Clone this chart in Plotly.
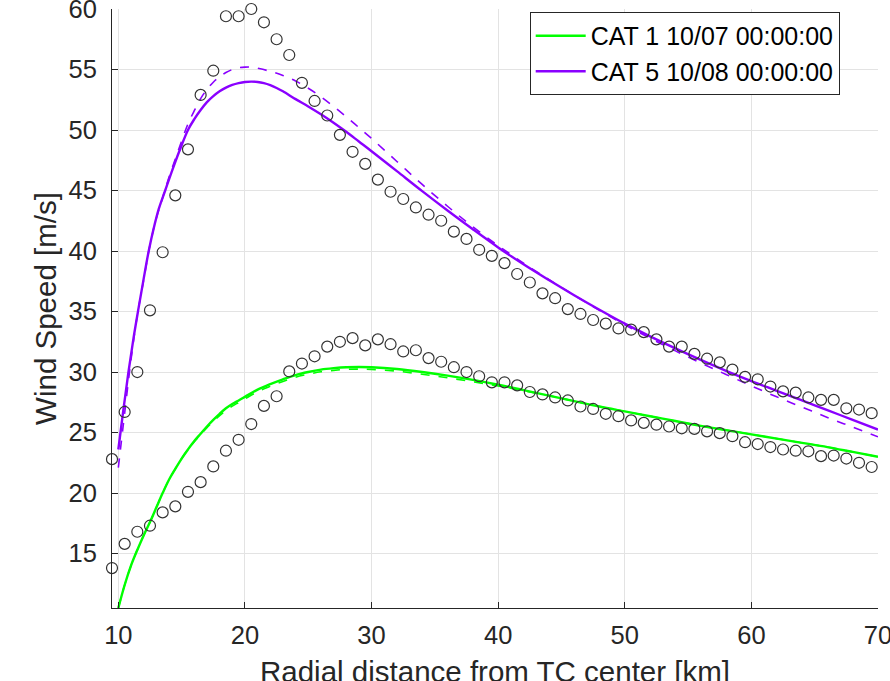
import plotly.graph_objects as go

# ---------------- data ----------------
obs_r = [9.5, 10.5, 11.5, 12.5, 13.5, 14.5, 15.5, 16.5, 17.5, 18.5, 19.5, 20.5, 21.5, 22.5,
         23.5, 24.5, 25.5, 26.5, 27.5, 28.5, 29.5, 30.5, 31.5, 32.5, 33.5, 34.5, 35.5, 36.5,
         37.5, 38.5, 39.5, 40.5, 41.5, 42.5, 43.5, 44.5, 45.5, 46.5, 47.5, 48.5, 49.5, 50.5,
         51.5, 52.5, 53.5, 54.5, 55.5, 56.5, 57.5, 58.5, 59.5, 60.5, 61.5, 62.5, 63.5, 64.5,
         65.5, 66.5, 67.5, 68.5, 69.5]

obs_cat5 = [22.8, 26.7, 30.0, 35.1, 39.9, 44.6, 48.4, 52.9, 54.9, 59.4, 59.4, 60.0, 58.9, 57.5,
            56.2, 53.9, 52.4, 51.2, 49.6, 48.2, 47.2, 45.9, 44.9, 44.3, 43.6, 43.0, 42.5, 41.6,
            41.0, 40.1, 39.6, 39.0, 38.1, 37.4, 36.5, 36.1, 35.2, 34.8, 34.3, 34.0, 33.6, 33.5,
            33.3, 32.7, 32.1, 32.1, 31.5, 31.1, 30.8, 30.2, 29.6, 29.4, 28.8, 28.4, 28.3, 27.9,
            27.7, 27.7, 27.0, 26.9, 26.6]

obs_cat1 = [13.8, 15.8, 16.8, 17.3, 18.4, 18.9, 20.1, 20.9, 22.2, 23.5, 24.4, 25.7, 27.2, 28.0,
            30.05, 30.7, 31.3, 32.1, 32.5, 32.8, 32.2, 32.7, 32.3, 31.7, 31.8, 31.15, 30.85, 30.4,
            30.0, 29.65, 29.15, 29.15, 28.9, 28.35, 28.15, 27.9, 27.65, 27.15, 26.95, 26.55, 26.35, 26.0,
            25.8, 25.65, 25.5, 25.35, 25.3, 25.1, 24.95, 24.7, 24.2, 24.05, 23.8, 23.6, 23.5, 23.45,
            23.05, 23.1, 22.85, 22.5, 22.15]

# model curves (solid = fitted, dashed = reference profile)
cat5_r = [10.0, 10.4, 10.8, 11.2, 11.6, 12.0, 12.4, 12.8, 13.2, 13.7, 14.2, 14.8, 15.5, 16.0,
          16.5, 17.0, 17.5, 18.0, 18.5, 19.0, 19.5, 20.0, 20.5, 21.0, 21.5, 22.0, 22.5, 23.0,
          24.0, 25.0, 26.0, 27.0, 28.0, 29.0, 30.0, 32.0, 34.0, 36.0, 38.0, 40.0, 42.0, 44.0,
          46.0, 48.0, 50.0, 52.0, 54.0, 56.0, 58.0, 60.0, 62.0, 64.0, 66.0, 68.0, 70.0]
cat5_fit = [23.6, 26.9, 30.0, 32.8, 35.3, 37.7, 40.0, 41.9, 43.5, 45.0, 46.5, 48.2, 50.0, 50.9,
            51.65, 52.3, 52.8, 53.2, 53.5, 53.72, 53.87, 53.97, 54.0, 53.97, 53.87, 53.7, 53.47, 53.2,
            52.55, 51.95, 51.3, 50.6, 49.85, 49.05, 48.25, 46.6, 44.95, 43.35, 41.8, 40.3, 38.9, 37.6,
            36.35, 35.15, 34.0, 32.95, 31.95, 31.0, 30.1, 29.25, 28.45, 27.65, 26.85, 26.05, 25.25]
cat5_ref_r = [10.0, 10.5, 11.0, 11.5, 12.0, 12.5, 13.0, 13.5, 14.0, 14.5, 15.0, 15.5, 16.0, 16.5,
              17.0, 17.5, 18.0, 18.5, 19.0, 19.5, 20.0, 20.5, 21.0, 22.0, 23.0, 24.0, 25.0, 26.0,
              27.0, 28.0, 29.0, 30.0, 32.0, 34.0, 36.0, 38.0, 40.0, 42.0, 44.0, 46.0, 48.0, 50.0,
              52.0, 54.0, 56.0, 58.0, 60.0, 62.0, 64.0, 66.0, 68.0, 70.0]
cat5_ref = [22.1, 26.6, 31.0, 34.7, 37.6, 40.5, 42.7, 44.4, 46.1, 47.6, 49.1, 50.5, 51.6, 52.6,
            53.35, 53.95, 54.4, 54.75, 55.0, 55.15, 55.2, 55.2, 55.1, 54.85, 54.5, 54.05, 53.45, 52.75,
            51.95, 51.1, 50.2, 49.3, 47.4, 45.5, 43.7, 42.0, 40.45, 39.0, 37.65, 36.35, 35.1, 33.9,
            32.8, 31.75, 30.75, 29.8, 28.85, 27.95, 27.1, 26.25, 25.45, 24.65]

cat1_r = [10.0, 10.5, 11.0, 11.5, 12.0, 12.5, 13.0, 13.5, 14.0, 14.5, 15.0, 15.5, 16.0, 16.5,
          17.0, 17.5, 18.0, 18.5, 19.0, 19.5, 20.0, 21.0, 22.0, 23.0, 24.0, 25.0, 26.0, 27.0,
          28.0, 29.0, 30.0, 32.0, 34.0, 36.0, 38.0, 40.0, 42.0, 44.0, 46.0, 48.0, 50.0, 52.0,
          54.0, 56.0, 58.0, 60.0, 62.0, 64.0, 66.0, 68.0, 70.0]
cat1_fit = [10.5, 12.4, 14.0, 15.3, 16.5, 17.6, 18.8, 20.0, 21.1, 22.0, 22.85, 23.6, 24.3, 24.9,
            25.5, 26.05, 26.55, 27.0, 27.35, 27.65, 27.95, 28.55, 29.0, 29.4, 29.75, 30.0, 30.2, 30.32,
            30.4, 30.42, 30.4, 30.25, 30.0, 29.7, 29.35, 28.95, 28.5, 28.05, 27.6, 27.15, 26.75, 26.35,
            25.95, 25.55, 25.2, 24.85, 24.5, 24.15, 23.8, 23.4, 23.0]
cat1_ref = [10.5, 12.4, 14.0, 15.3, 16.5, 17.6, 18.8, 20.0, 21.1, 22.0, 22.85, 23.6, 24.25, 24.82,
            25.4, 25.9, 26.4, 26.83, 27.18, 27.48, 27.78, 28.37, 28.82, 29.22, 29.57, 29.82, 30.02, 30.14,
            30.22, 30.24, 30.22, 30.07, 29.82, 29.52, 29.2, 28.85, 28.45, 28.05, 27.6, 27.15, 26.75, 26.35,
            25.95, 25.55, 25.2, 24.85, 24.5, 24.15, 23.8, 23.4, 23.0]

series_names = ["CAT 1 10/07 00:00:00", "CAT 5 10/08 00:00:00"]
series_colors = ["#00ff00", "#8a00ff"]

x_ticks = [10, 20, 30, 40, 50, 60, 70]
y_ticks = [15, 20, 25, 30, 35, 40, 45, 50, 55, 60]

x_title = "Radial distance from TC center [km]"
y_title = "Wind Speed [m/s]"

FONT = "Liberation Sans, Arial, Helvetica, sans-serif"
DARK = "#262626"

fig = go.Figure()

# dashed reference profiles
fig.add_trace(go.Scatter(x=cat1_r, y=cat1_ref, mode="lines", showlegend=False,
                         line=dict(color=series_colors[0], width=1.6, dash="dash", shape="spline")))
fig.add_trace(go.Scatter(x=cat5_ref_r, y=cat5_ref, mode="lines", showlegend=False,
                         line=dict(color=series_colors[1], width=1.6, dash="dash", shape="spline")))
# solid fitted profiles
fig.add_trace(go.Scatter(x=cat1_r, y=cat1_fit, mode="lines", name=series_names[0],
                         line=dict(color=series_colors[0], width=2.4, shape="spline")))
fig.add_trace(go.Scatter(x=cat5_r, y=cat5_fit, mode="lines", name=series_names[1],
                         line=dict(color=series_colors[1], width=2.4, shape="spline")))
# observations
for obs in (obs_cat1, obs_cat5):
    fig.add_trace(go.Scatter(x=obs_r, y=obs, mode="markers", showlegend=False, cliponaxis=False,
                             marker=dict(symbol="circle-open", size=11, color="#333333",
                                         line=dict(width=1.2, color="#333333"))))

axis_common = dict(showgrid=True, gridcolor="#e3e3e3", gridwidth=1, zeroline=False,
                   showline=True, linecolor=DARK, linewidth=1, mirror=False,
                   ticks="inside", ticklen=6, tickwidth=1, tickcolor=DARK,
                   ticklabeloverflow="allow", automargin=False,
                   tickfont=dict(family=FONT, size=25.5, color=DARK))

fig.update_layout(
    width=890, height=681,
    margin=dict(l=112, r=12, t=9, b=73, pad=0),
    paper_bgcolor="white", plot_bgcolor="white",
    font=dict(family=FONT, color=DARK),
    xaxis=dict(range=[9.5, 70], tickvals=x_ticks, ticklabelstandoff=4, **axis_common),
    yaxis=dict(range=[10.5, 60], tickvals=y_ticks, ticklabelstandoff=9,
               title=dict(text=y_title, font=dict(family=FONT, size=29.5, color=DARK), standoff=3),
               **axis_common),
    legend=dict(x=0.95, y=0.995, xanchor="right", yanchor="top",
                bgcolor="white", bordercolor=DARK, borderwidth=1,
                font=dict(family=FONT, size=25, color="#000000"),
                tracegroupgap=0, itemwidth=50),
    showlegend=True,
    annotations=[dict(text=x_title, xref="paper", yref="paper", x=0.5, y=-0.077,
                      xanchor="center", yanchor="top", showarrow=False, borderpad=0,
                      font=dict(family=FONT, size=29.5, color=DARK))],
)

fig.write_html("out.html", config={"displayModeBar": False},
               post_script="document.body.style.margin='0';")
